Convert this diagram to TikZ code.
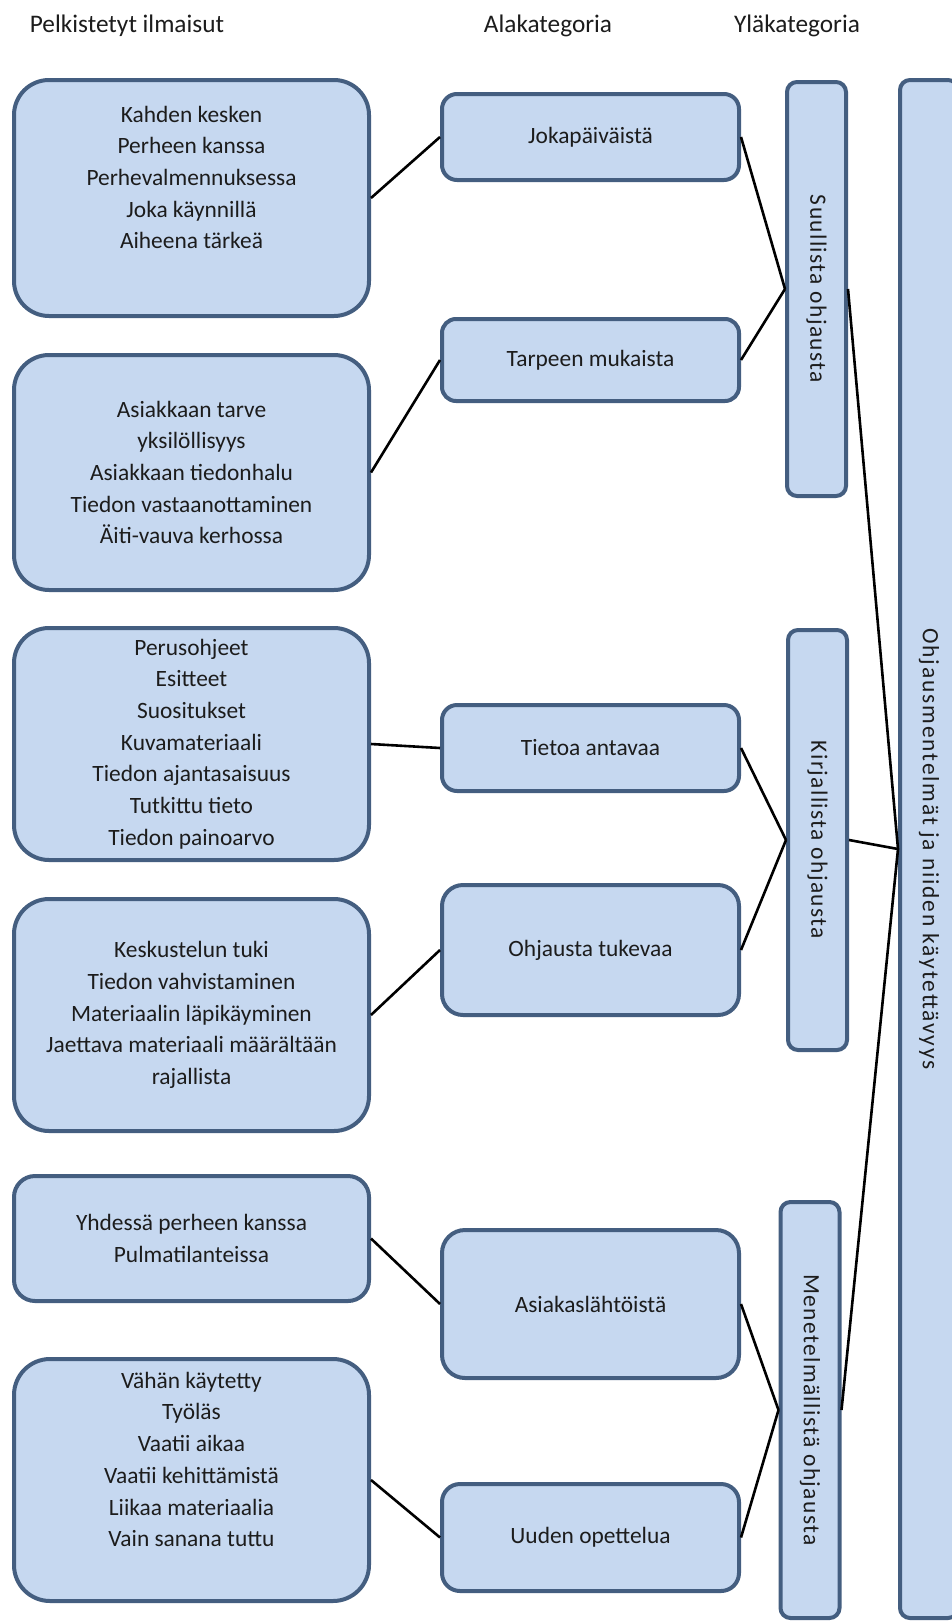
\documentclass[tikz,border=0pt]{standalone}
\usepackage{fontspec}
\setmainfont{Carlito}
\newfontfamily\rotfont[LetterSpace=6]{Carlito}
\newfontfamily\bigrotfont[LetterSpace=8]{Carlito}
\definecolor{boxfill}{HTML}{C6D8F0}
\definecolor{boxline}{HTML}{445E80}
\definecolor{txtcol}{HTML}{1C1C1C}
\tikzset{
  basebox/.style={draw=boxline, fill=boxfill, line width=4pt, inner sep=0pt, align=center, text=txtcol,
    font=\fontsize{23.4}{31.7}\selectfont},
  lbox/.style={basebox, minimum width=355pt},
  mbox/.style={basebox, minimum width=297pt},
  ybox/.style={basebox, minimum width=59pt, rounded corners=10pt},
  header/.style={inner sep=0pt, text=txtcol, font=\fontsize{25.3}{30}\selectfont},
  conn/.style={draw=black, line width=2.6pt}
}
\begin{document}
\begin{tikzpicture}[x=1pt, y=-1pt]
\clip (0,0) rectangle (952,1622);
\fill[white] (0,0) rectangle (952,1622);

% headers
\node[header] (h1) at (127,26) {Pelkistetyt ilmaisut};
\node[header] (h2) at (548,26) {Alakategoria};
\node[header] (h3) at (797,26) {Yläkategoria};

% left boxes
\node[lbox, minimum height=236pt, rounded corners=35pt] (L1) at (191.5,198)
  {Kahden kesken\\Perheen kanssa\\Perhevalmennuksessa\\Joka käynnillä\\Aiheena tärkeä\\\strut};
\node[lbox, minimum height=235pt, rounded corners=35pt] (L2) at (191.5,472.5)
  {Asiakkaan tarve\\yksilöllisyys\\Asiakkaan tiedonhalu\\Tiedon vastaanottaminen\\Äiti-vauva kerhossa};
\node[lbox, minimum height=232pt, rounded corners=35pt] (L3) at (191.5,744)
  {Perusohjeet\\Esitteet\\Suositukset\\Kuvamateriaali\\Tiedon ajantasaisuus\\Tutkittu tieto\\Tiedon painoarvo};
\node[lbox, minimum height=232pt, rounded corners=35pt] (L4) at (191.5,1015)
  {Keskustelun tuki\\Tiedon vahvistaminen\\Materiaalin läpikäyminen\\Jaettava materiaali määrältään\\rajallista};
\node[lbox, minimum height=125pt, rounded corners=21pt] (L5) at (191.5,1238.5)
  {Yhdessä perheen kanssa\\Pulmatilanteissa};
\node[lbox, minimum height=242pt, rounded corners=36pt] (L6) at (191.5,1480)
  {Vähän käytetty\\Työläs\\Vaatii aikaa\\Vaatii kehittämistä\\Liikaa materiaalia\\Vain sanana tuttu\\\strut};

% middle boxes
\node[mbox, minimum height=86pt, rounded corners=15pt] (M1) at (590.5,137) {Jokapäiväistä};
\node[mbox, minimum height=82pt, rounded corners=14pt] (M2) at (590.5,360) {Tarpeen mukaista};
\node[mbox, minimum height=86pt, rounded corners=15pt] (M3) at (590.5,748) {Tietoa antavaa};
\node[mbox, minimum height=130pt, rounded corners=21pt] (M4) at (590.5,950) {Ohjausta tukevaa};
\node[mbox, minimum height=148pt, rounded corners=23pt] (M5) at (590.5,1304) {Asiakaslähtöistä};
\node[mbox, minimum height=107pt, rounded corners=18pt] (M6) at (590.5,1537.5) {Uuden opettelua};

% upper category boxes
\node[ybox, minimum height=414pt] (Y1) at (816.5,289)
  {\rotatebox{-90}{\rotfont\fontsize{23.4}{28}\selectfont Suullista ohjausta}};
\node[ybox, minimum height=420pt] (Y2) at (817.5,840)
  {\rotatebox{-90}{\rotfont\fontsize{23.4}{28}\selectfont Kirjallista ohjausta}};
\node[ybox, minimum height=416pt] (Y3) at (810,1410)
  {\rotatebox{-90}{\rotfont\fontsize{23.4}{28}\selectfont Menetelmällistä ohjausta}};

% main category box
\node[ybox, minimum width=58pt, minimum height=1538pt] (B) at (929,849)
  {\rotatebox{-90}{\bigrotfont\fontsize{23.4}{28}\selectfont Ohjausmentelmät ja niiden käytettävyys}};

% connectors
\draw[conn] (L1.east) -- (M1.west);
\draw[conn] (L2.east) -- (M2.west);
\draw[conn] (L3.east) -- (M3.west);
\draw[conn] (L4.east) -- (M4.west);
\draw[conn] (L5.east) -- (M5.west);
\draw[conn] (L6.east) -- (M6.west);
\draw[conn] (M1.east) -- (Y1.west);
\draw[conn] (M2.east) -- (Y1.west);
\draw[conn] (M3.east) -- (Y2.west);
\draw[conn] (M4.east) -- (Y2.west);
\draw[conn] (M5.east) -- (Y3.west);
\draw[conn] (M6.east) -- (Y3.west);
\draw[conn] (Y1.east) -- (B.west);
\draw[conn] (Y2.east) -- (B.west);
\draw[conn] (Y3.east) -- (B.west);
\end{tikzpicture}
\end{document}
